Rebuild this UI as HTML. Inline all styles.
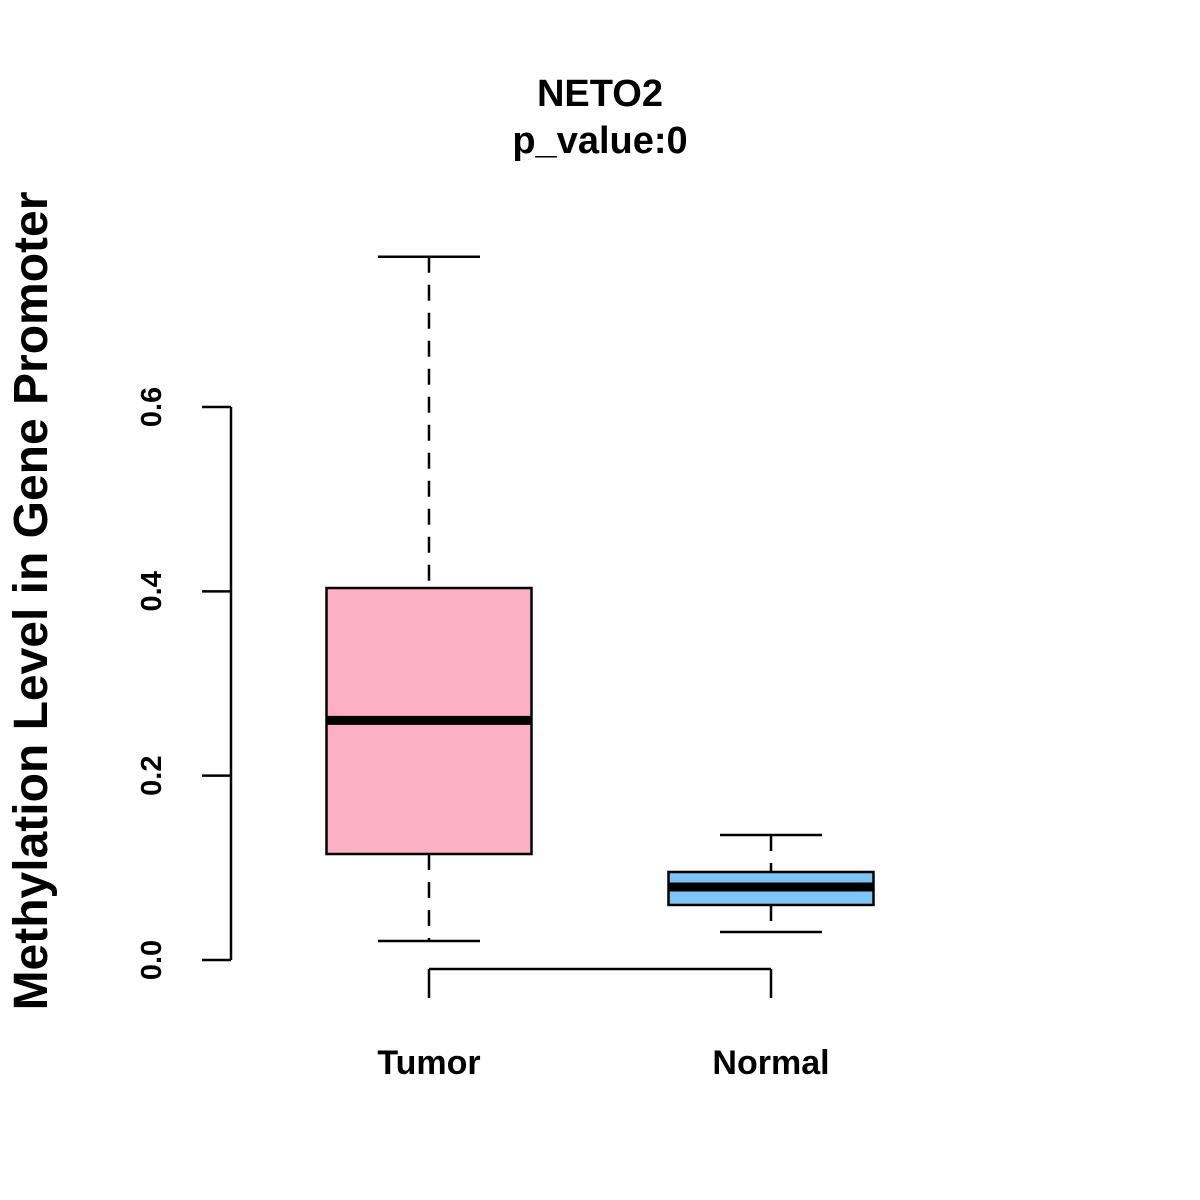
<!DOCTYPE html>
<html><head><meta charset="utf-8"><style>
html,body{margin:0;padding:0;background:#fff;}
svg{display:block;font-family:"Liberation Sans",Arial,sans-serif;font-weight:bold;}
</style></head><body>
<svg id="chart" width="1200" height="1200" viewBox="0 0 1200 1200">
<text x="600" y="106" font-size="38" text-anchor="middle">NETO2</text>
<text x="600" y="153" font-size="38" text-anchor="middle">p_value:0</text>
<text transform="translate(47,601) rotate(-90)" font-size="48" text-anchor="middle">Methylation Level in Gene Promoter</text>
<g id="yaxis"></g>
<g id="xaxis"></g>
<g id="boxes"></g>
</svg>
<script>
const categories = ["Tumor", "Normal"];
const whiskerLow = [0.0206, 0.0304];
const q1 = [0.115, 0.0597];
const medians = [0.260, 0.0792];
const q3 = [0.4036, 0.0955];
const whiskerHigh = [0.763, 0.1356];
const fills = ["#FBB1C3", "#7EC4F5"];
const yTicks = [0, 0.2, 0.4, 0.6];
const yTickLabels = ["0.0", "0.2", "0.4", "0.6"];

const NS = "http://www.w3.org/2000/svg";
const yScale = v => 960 - v * 921.67;
const xScale = i => 429 + i * 342;
function mk(parent, tag, attrs){const e=document.createElementNS(NS,tag);for(const k in attrs)e.setAttribute(k,attrs[k]);parent.appendChild(e);return e;}

const ya = document.getElementById("yaxis");
let l = mk(ya,"line",{x1:231,x2:231,y1:yScale(yTicks[0]),y2:yScale(yTicks[yTicks.length-1]),stroke:"#000","stroke-width":2.5});


yTicks.forEach((v,i)=>{
  const t = mk(ya,"line",{x1:202,x2:231,y1:yScale(v),y2:yScale(v),stroke:"#000","stroke-width":2.5});
  
  
  const tx = mk(ya,"text",{transform:`translate(161,${yScale(v)}) rotate(-90)`,"font-size":29,"text-anchor":"middle"});
  tx.textContent = yTickLabels[i];
  
  
});

const xa = document.getElementById("xaxis");
l = mk(xa,"line",{x1:xScale(0),x2:xScale(categories.length-1),y1:969,y2:969,stroke:"#000","stroke-width":2.5});


categories.forEach((c,i)=>{
  const t = mk(xa,"line",{x1:xScale(i),x2:xScale(i),y1:969,y2:998,stroke:"#000","stroke-width":2.5});
  
  
  const tx = mk(xa,"text",{x:xScale(i),y:1074,"font-size":34,"text-anchor":"middle"});
  tx.textContent = c;
  
  
});

const bx = document.getElementById("boxes");
categories.forEach((c,i)=>{
  const cx = xScale(i), hw = 102.5, cap = 51;
  const g = mk(bx,"g",{});
  
  
  mk(g,"line",{x1:cx,x2:cx,y1:yScale(whiskerHigh[i]),y2:yScale(q3[i]),stroke:"#000","stroke-width":2.5,"stroke-dasharray":"16,12"});
  mk(g,"line",{x1:cx,x2:cx,y1:yScale(q1[i]),y2:yScale(whiskerLow[i]),stroke:"#000","stroke-width":2.5,"stroke-dasharray":"16,12"});
  mk(g,"line",{x1:cx-cap,x2:cx+cap,y1:yScale(whiskerHigh[i]),y2:yScale(whiskerHigh[i]),stroke:"#000","stroke-width":2.5});
  mk(g,"line",{x1:cx-cap,x2:cx+cap,y1:yScale(whiskerLow[i]),y2:yScale(whiskerLow[i]),stroke:"#000","stroke-width":2.5});
  mk(g,"rect",{x:cx-hw,y:yScale(q3[i]),width:2*hw,height:yScale(q1[i])-yScale(q3[i]),fill:fills[i],stroke:"#000","stroke-width":2.5});
  mk(g,"line",{x1:cx-hw,x2:cx+hw,y1:yScale(medians[i]),y2:yScale(medians[i]),stroke:"#000","stroke-width":9});
});
</script>
</body></html>
